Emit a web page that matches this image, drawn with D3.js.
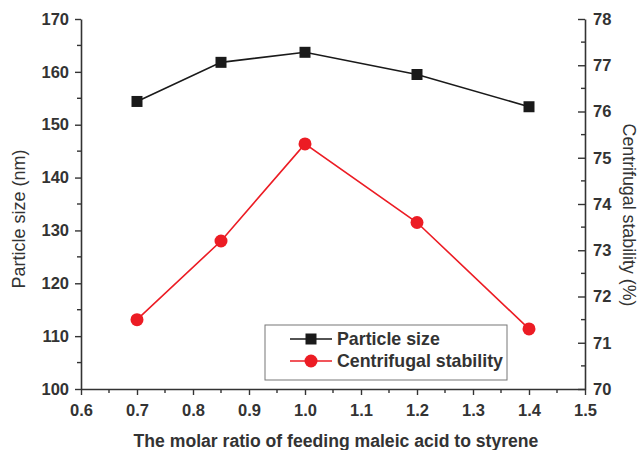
<!DOCTYPE html>
<html><head><meta charset="utf-8">
<script src="https://cdn.jsdelivr.net/npm/d3@7"></script>
<style>body{margin:0;background:#fff}</style>
</head><body><svg id="c" width="638" height="450"></svg>
<script>
const ratios = [0.7, 0.85, 1.0, 1.2, 1.4];
const particleSize = [154.4, 161.8, 163.7, 159.5, 153.4];
const stability = [71.5, 73.2, 75.3, 73.6, 71.3];
const xTicks = [0.6,0.7,0.8,0.9,1.0,1.1,1.2,1.3,1.4,1.5];
const yLeftTicks = [100,110,120,130,140,150,160,170];
const yRightTicks = [70,71,72,73,74,75,76,77,78];
const seriesNames = ["Particle size", "Centrifugal stability"];

const svg = d3.select("#c");
const L = 81, R = 585, T = 19, B = 389;
const x = d3.scaleLinear().domain([0.6,1.5]).range([L,R]);
const yL = d3.scaleLinear().domain([100,170]).range([B,T]);
const yR = d3.scaleLinear().domain([70,78]).range([B,T]);
const txt = "#333";
const font = "Arial, 'Liberation Sans', sans-serif";

function styleAxis(g){
  g.selectAll("path").attr("stroke","#333").attr("stroke-width",1.6);
  g.selectAll("line").attr("stroke","#333").attr("stroke-width",1.4);
  g.selectAll("text").attr("fill",txt).attr("font-family",font).attr("font-size",16.5).attr("font-weight","bold");
}
// minor ticks
const minorX = d3.range(0.65,1.5,0.1);
svg.append("g").selectAll("line").data(minorX).join("line")
  .attr("x1",d=>x(d)).attr("x2",d=>x(d)).attr("y1",B).attr("y2",B+4).attr("stroke","#333").attr("stroke-width",1.4);
const minorL = d3.range(105,170,10);
svg.append("g").selectAll("line").data(minorL).join("line")
  .attr("x1",L-4).attr("x2",L).attr("y1",d=>yL(d)).attr("y2",d=>yL(d)).attr("stroke","#333").attr("stroke-width",1.4);
const minorR = d3.range(70.5,78,1);
svg.append("g").selectAll("line").data(minorR).join("line")
  .attr("x1",R-4).attr("x2",R).attr("y1",d=>yR(d)).attr("y2",d=>yR(d)).attr("stroke","#333").attr("stroke-width",1.4);

const gx = svg.append("g").attr("transform",`translate(0,${B})`)
  .call(d3.axisBottom(x).tickValues(xTicks).tickFormat(d3.format(".1f")).tickSize(6).tickSizeOuter(0).tickPadding(9));
styleAxis(gx);
const gl = svg.append("g").attr("transform",`translate(${L},0)`)
  .call(d3.axisLeft(yL).tickValues(yLeftTicks).tickSize(6).tickSizeOuter(0).tickPadding(6));
styleAxis(gl);
const gr = svg.append("g").attr("transform",`translate(${R},0)`)
  .call(d3.axisRight(yR).tickValues(yRightTicks).tickSize(-7).tickSizeOuter(0).tickPadding(8));
styleAxis(gr);

// lines
const black = "#1a1a1a", red = "#ec1c24";
const ps = ratios.map((r,i)=>({x:r,y:particleSize[i]}));
const st = ratios.map((r,i)=>({x:r,y:stability[i]}));
svg.append("path").datum(st).attr("fill","none").attr("stroke",red).attr("stroke-width",1.6)
  .attr("d",d3.line().x(d=>x(d.x)).y(d=>yR(d.y)));
svg.append("g").selectAll("circle").data(st).join("circle")
  .attr("cx",d=>x(d.x)).attr("cy",d=>yR(d.y)).attr("r",6.5).attr("fill",red);
svg.append("path").datum(ps).attr("fill","none").attr("stroke",black).attr("stroke-width",1.6)
  .attr("d",d3.line().x(d=>x(d.x)).y(d=>yL(d.y)));
svg.append("g").selectAll("rect").data(ps).join("rect")
  .attr("x",d=>x(d.x)-5.5).attr("y",d=>yL(d.y)-5.5).attr("width",11).attr("height",11).attr("fill",black);

// legend
const lg = svg.append("g");
lg.append("rect").attr("x",265).attr("y",325).attr("width",242).attr("height",55)
  .attr("fill","#fff").attr("stroke","#777").attr("stroke-width",1);
[[339,black,"sq"],[361,red,"ci"]].forEach((r,i)=>{
  lg.append("line").attr("x1",290).attr("x2",332).attr("y1",r[0]).attr("y2",r[0]).attr("stroke",r[1]).attr("stroke-width",1.6);
  if(r[2]==="sq") lg.append("rect").attr("x",305.5).attr("y",r[0]-5.5).attr("width",11).attr("height",11).attr("fill",r[1]);
  else lg.append("circle").attr("cx",311).attr("cy",r[0]).attr("r",6.5).attr("fill",r[1]);
  lg.append("text").attr("x",337).attr("y",r[0]).attr("dy","0.36em").text(seriesNames[i])
    .attr("font-family",font).attr("font-size",17.8).attr("font-weight","bold").attr("fill",txt);
});

// titles
svg.append("text").attr("transform",`translate(19,219) rotate(-90)`).attr("text-anchor","middle").attr("dy","0.36em")
  .attr("font-family",font).attr("font-size",18).attr("fill",txt).text("Particle size (nm)");
svg.append("text").attr("transform",`translate(629,215) rotate(90)`).attr("text-anchor","middle").attr("dy","0.36em")
  .attr("font-family",font).attr("font-size",17.8).attr("fill",txt).text("Centrifugal stability (%)");
svg.append("text").attr("x",336).attr("y",441).attr("dy","0.36em").attr("text-anchor","middle")
  .attr("font-family",font).attr("font-size",17.6).attr("font-weight","bold").attr("fill",txt)
  .text("The molar ratio of feeding maleic acid to styrene");
</script></body></html>
